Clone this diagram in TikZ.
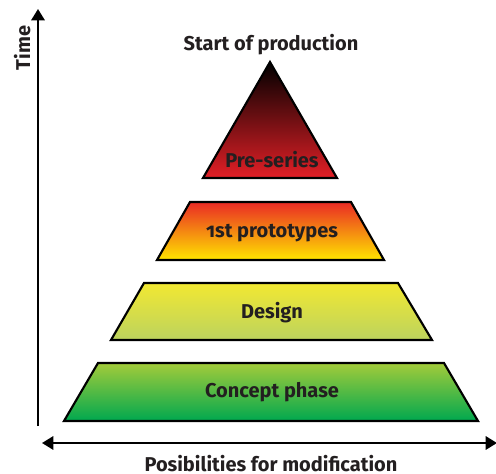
\documentclass[tikz,border=0pt]{standalone}
\usepackage{fontspec}
\setmainfont{Fira Sans}[Numbers=OldStyle]
\usetikzlibrary{arrows.meta}
\definecolor{txt}{HTML}{231F20}
\definecolor{redA}{HTML}{E21F26}
\definecolor{redB}{HTML}{EA2A24}
\definecolor{yelA}{HTML}{FFE500}
\definecolor{yelB}{HTML}{F2E832}
\definecolor{lgrn}{HTML}{BCD35E}
\definecolor{ygrn}{HTML}{A3CB3A}
\definecolor{dgrn}{HTML}{00A84F}
\tikzset{
  block/.style={draw=black, line width=1.6pt, line join=miter},
  lbl/.style={text=txt, font=\bfseries\fontsize{15}{17}\selectfont, inner sep=0pt, anchor=base},
  axis/.style={line width=1.6pt, -{Triangle[length=8.5pt,width=10pt]}},
  axis2/.style={line width=1.6pt, {Triangle[length=8.5pt,width=10pt]}-{Triangle[length=8.5pt,width=10pt]}}
}
\begin{document}
\begin{tikzpicture}[x=0.75pt,y=-0.75pt]
\useasboundingbox (0,0) rectangle (496,474);
% axes
\coordinate (v0) at (38,426);
\coordinate (v1) at (38,9);
\draw[axis] (v0) -- (v1);
\coordinate (h0) at (42,443);
\coordinate (h1) at (497,443);
\draw[axis2] (h0) -- (h1);
\node[lbl, rotate=90] (time) at (30,48) {Time};
\node[lbl, text depth=0pt] (pos) at (271,471.5) {Posibilities for modification};
\node[lbl] (sop) at (271,51) {Start of production};
% blocks
\path[block, top color=black, bottom color=redA] (270,62) -- (337,178) -- (203,178) -- cycle;
\node[lbl] (pre) at (272,168) {Pre-series};
\path[block, top color=redB, bottom color=yelA] (190,202) -- (351,202) -- (384,260) -- (157,260) -- cycle;
\node[lbl] (proto) at (272,237) {1st prototypes};
\path[block, top color=yelB, bottom color=lgrn] (144,283) -- (398,283) -- (432,340) -- (111,340) -- cycle;
\node[lbl] (design) at (272,318) {Design};
\path[block, top color=ygrn, bottom color=dgrn] (98,363) -- (444,363) -- (478,421) -- (64,421) -- cycle;
\node[lbl] (concept) at (272,397) {Concept phase};
\end{tikzpicture}
\end{document}
